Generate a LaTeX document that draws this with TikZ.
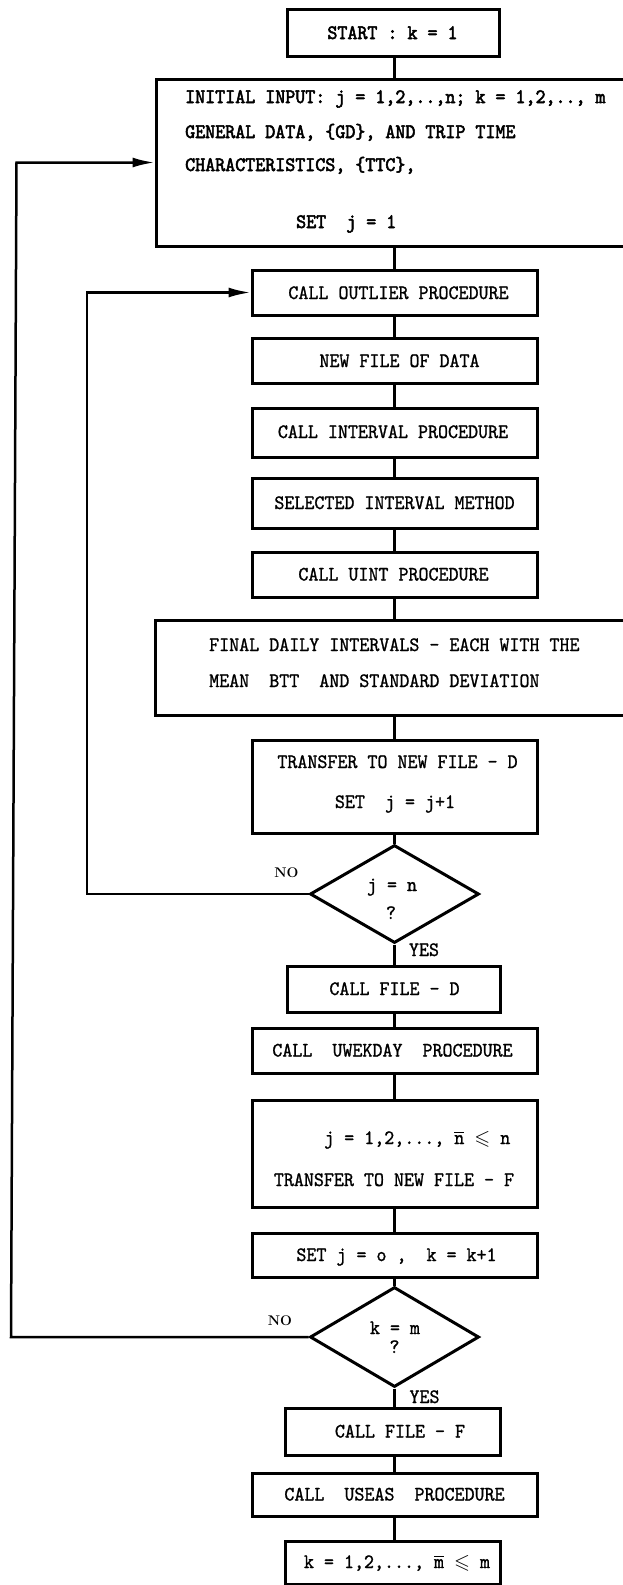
\documentclass[tikz,border=0pt]{standalone}
\usepackage{fontspec}
\usepackage{amssymb}
\usetikzlibrary{shapes.geometric,arrows.meta}
\newfontfamily\tw{lmmono10-regular.otf}[FakeStretch=0.93,FakeBold=1.1]
\newfontfamily\twb{lmmono10-regular.otf}[FakeStretch=0.93,FakeBold=2.6]
\newcommand{\obar}[1]{$\overline{\mbox{#1}}$}
\begin{document}
\begin{tikzpicture}[x=1pt,y=-1pt,
  box/.style={draw, line width=3pt, inner sep=0pt, rectangle},
  dia/.style={draw, line width=3pt, inner sep=0pt, diamond},
  lbl/.style={font=\tw\fontsize{20.5}{24}\selectfont, inner sep=0pt, anchor=base},
  lblw/.style={lbl, anchor=base west},
  blbl/.style={font=\twb\fontsize{20.5}{24}\selectfont, inner sep=0pt, anchor=base},
  blblw/.style={blbl, anchor=base west},
  nolbl/.style={font=\fontsize{14}{15}\selectfont\bfseries, inner sep=0pt, anchor=base},
  conn/.style={line width=2.5pt},
  loop/.style={line width=2.5pt, -{Latex[length=22pt,width=10pt]}}]
\useasboundingbox (0,0) rectangle (623,1585);
\clip (0,0) rectangle (623,1585);
\fill[white] (0,0) rectangle (623,1585);

\coordinate (cx) at (394.5,0);

% boxes
\node[box, minimum width=212, minimum height=47] (start) at (393,32.5) {};
\node[box, minimum width=484, minimum height=167] (init) at (398,162.5) {};
\node[box, minimum width=285, minimum height=45] (outlier) at (394.5,292.5) {};
\node[box, minimum width=285, minimum height=45] (newfile) at (394.5,360.5) {};
\node[box, minimum width=285, minimum height=49] (interval) at (394.5,432.5) {};
\node[box, minimum width=285, minimum height=50] (selected) at (394.5,503) {};
\node[box, minimum width=285, minimum height=45] (uint) at (394.5,574.5) {};
\node[box, minimum width=485, minimum height=95] (final) at (397.5,667.5) {};
\node[box, minimum width=285, minimum height=93] (transd) at (394.5,786.5) {};
\node[dia, minimum width=169, minimum height=98] (d1) at (394.5,894) {};
\node[box, minimum width=213, minimum height=46] (filed) at (393.5,989) {};
\node[box, minimum width=285, minimum height=45] (uwek) at (394.5,1050.5) {};
\node[box, minimum width=285, minimum height=107] (jbox) at (394.5,1153.5) {};
\node[box, minimum width=285, minimum height=44] (setj) at (394.5,1255) {};
\node[dia, minimum width=169, minimum height=100] (d2) at (394.5,1337) {};
\node[box, minimum width=215, minimum height=47] (filef) at (392.5,1431.5) {};
\node[box, minimum width=285, minimum height=43] (useas) at (394.5,1494.5) {};
\node[box, minimum width=215, minimum height=43] (last) at (392.5,1562.5) {};

% texts
\node[blbl] (tstart) at (392.5,39) {START : k = 1};
\node[blblw] (ti1) at (185,103) {INITIAL INPUT: j = 1,2,..,n; k = 1,2,.., m};
\node[blblw] (ti2) at (185,138) {GENERAL DATA, \{GD\}, AND TRIP TIME};
\node[blblw] (ti3) at (185,171) {CHARACTERISTICS, \{TTC\},};
\node[blblw] (ti4) at (296,228) {SET~ j = 1};
\node[lbl] (tout) at (398.5,299) {CALL OUTLIER PROCEDURE};
\node[lbl] (tnew) at (399.5,367) {NEW FILE OF DATA};
\node[lbl] (tint) at (393,438) {CALL INTERVAL PROCEDURE};
\node[lbl] (tsel) at (394.5,509) {SELECTED INTERVAL METHOD};
\node[lbl] (tuint) at (393.5,580.5) {CALL UINT PROCEDURE};
\node[lblw] (tf1) at (209,651) {FINAL DAILY INTERVALS - EACH WITH THE};
\node[lblw] (tf2) at (209,687) {MEAN~ BTT~ AND STANDARD DEVIATION};
\node[lbl] (ttd1) at (397.5,768) {TRANSFER TO NEW FILE - D};
\node[lbl] (ttd2) at (395,808) {SET~ j = j+1};
\node[lbl] (td1a) at (392,891) {j = n};
\node[lbl] (td1b) at (391,919) {?};
\node[nolbl] (no1) at (286.5,877) {NO};
\node[lbl] (yes1) at (424,956) {YES};
\node[lbl] (tfd) at (394.5,995) {CALL FILE - D};
\node[lbl] (tuwek) at (392.5,1056.5) {CALL~ UWEKDAY~ PROCEDURE};
\node[lblw] (tj1) at (324,1144) {j = 1,2,..., \obar{n} $\leqslant$ n};
\node[lbl] (tj2) at (394,1186) {TRANSFER TO NEW FILE - F};
\node[lbl] (tsetj) at (396.5,1261) {SET j = o ,~ k = k+1};
\node[lbl] (td2a) at (395,1334) {k = m};
\node[lbl] (td2b) at (394.5,1353) {?};
\node[nolbl] (no2) at (280,1325) {NO};
\node[lbl] (yes2) at (424.5,1403) {YES};
\node[lbl] (tff) at (400,1437.5) {CALL FILE - F};
\node[lbl] (tuse) at (394.5,1500.5) {CALL~ USEAS~ PROCEDURE};
\node[lbl] (tlast) at (397,1568) {k = 1,2,..., \obar{m} $\leqslant$ m};

% vertical connectors
\draw[conn] (start.south -| cx) -- (init.north -| cx);
\draw[conn] (init.south -| cx) -- (outlier.north -| cx);
\draw[conn] (outlier.south -| cx) -- (newfile.north -| cx);
\draw[conn] (newfile.south -| cx) -- (interval.north -| cx);
\draw[conn] (interval.south -| cx) -- (selected.north -| cx);
\draw[conn] (selected.south -| cx) -- (uint.north -| cx);
\draw[conn] (uint.south -| cx) -- (final.north -| cx);
\draw[conn] (final.south -| cx) -- (transd.north -| cx);
\draw[conn] (transd.south -| cx) -- (d1.north);
\draw[conn] (d1.south) -- (filed.north -| cx);
\draw[conn] (filed.south -| cx) -- (uwek.north -| cx);
\draw[conn] (uwek.south -| cx) -- (jbox.north -| cx);
\draw[conn] (jbox.south -| cx) -- (setj.north -| cx);
\draw[conn] (setj.south -| cx) -- (d2.north);
\draw[conn] (d2.south) -- (filef.north -| cx);
\draw[conn] (filef.south -| cx) -- (useas.north -| cx);
\draw[conn] (useas.south -| cx) -- (last.north -| cx);

% loops
\coordinate (ic) at (87,0);
\draw[loop] (d1.west) -- (d1.west -| ic) -- (outlier.west -| ic) -- (outlier.west);
\coordinate (ob) at (11,1337);
\coordinate (ot) at (16.5,162.5);
\draw[loop] (d2.west) -- (ob) -- (ot) -- (init.west);
\end{tikzpicture}
\end{document}
